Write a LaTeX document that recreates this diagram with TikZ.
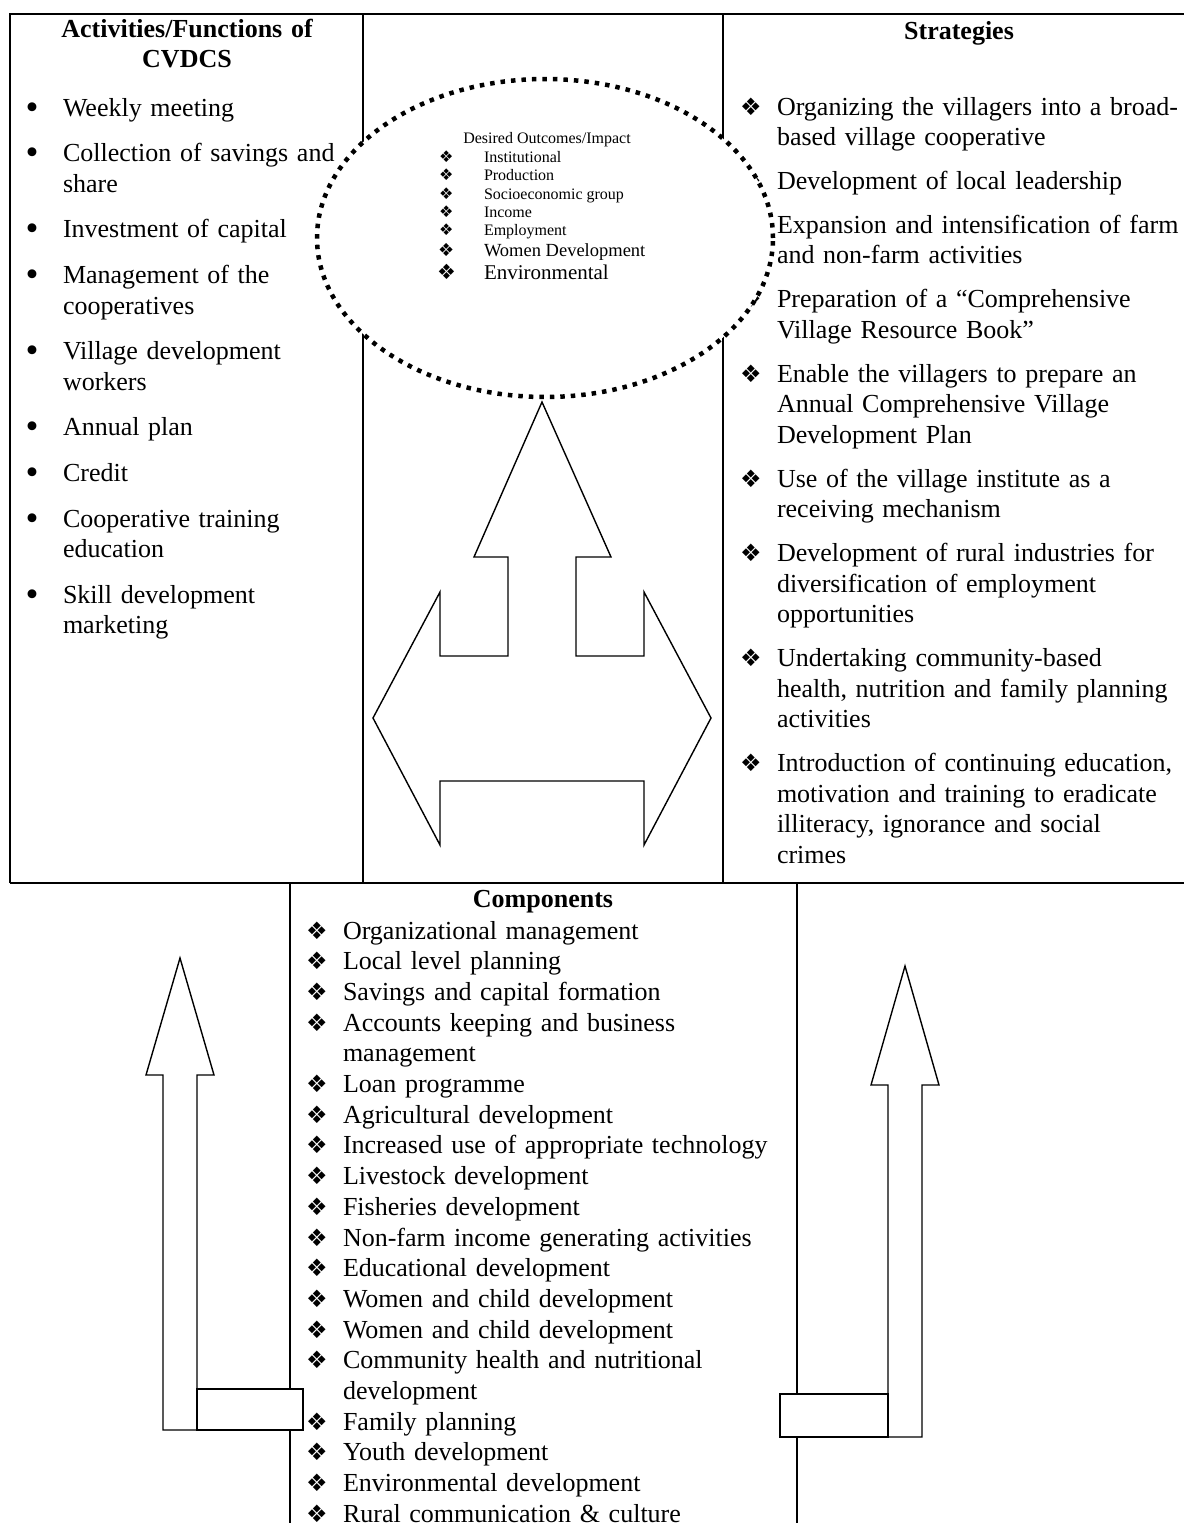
\documentclass[tikz,border=0pt]{standalone}
\usepackage{fontspec}
\setmainfont{Liberation Serif}
\newfontfamily\dvsans{DejaVu Sans}
\usetikzlibrary{shapes.geometric}

\newcommand\bigsz{\fontsize{26}{30.6}\selectfont}
\newcommand\dmd[1]{{\dvsans\fontsize{#1}{#1}\selectfont ❖}}
\newcommand\bul{\raisebox{-3pt}{\fontsize{37}{37}\selectfont •}}
\newcommand\litem[1]{\hangindent=53pt\hangafter=1\noindent\makebox[53pt][l]{\hspace*{15.5pt}\bul}#1}
\newcommand\sitem[1]{\hangindent=54pt\hangafter=1\noindent\makebox[54pt][l]{\hspace*{17pt}\dmd{24}}#1}
\newcommand\citem[1]{\hangindent=43pt\hangafter=1\noindent\makebox[43pt][l]{\hspace*{6pt}\dmd{24}}#1}
\newcommand\lgap{\par\vspace{15pt}}
\newcommand\sgap{\par\vspace{13.2pt}}
\newcommand\cgap{\par}

\begin{document}
\begin{tikzpicture}[x=1pt,y=-1pt,
  rule/.style={line width=1.8pt},
  arrowshape/.style={line width=1.4pt, fill=white, line join=miter},
  txt/.style={inner sep=0pt, outer sep=0pt},
  head/.style={txt, anchor=base, text width=340pt, align=center, font=\bigsz\bfseries},
  listbox/.style={txt, anchor=base west, align=left, font=\bigsz},
  dots/.style={line width=4.5pt, dash pattern=on 4.5pt off 6pt, fill=white},
  etext/.style={txt, anchor=base west},
]
\useasboundingbox[fill=white] (0,0) rectangle (1184,1523);

% table frame
\coordinate (tl) at (10,14);
\coordinate (tr) at (1184,14);
\coordinate (bl) at (10,883);
\coordinate (br) at (1184,883);
\coordinate (d1t) at (363,14);
\coordinate (d1b) at (363,883);
\coordinate (d2t) at (723,14);
\coordinate (d2b) at (723,883);
\coordinate (c1t) at (290,883);
\coordinate (c1b) at (290,1523);
\coordinate (c2t) at (797,883);
\coordinate (c2b) at (797,1523);
\draw[rule] (bl) -- (tl) -- (tr);
\draw[rule] (bl) -- (br);
\draw[rule] (d1t) -- (d1b);
\draw[rule] (d2t) -- (d2b);
\draw[rule] (c1t) -- (c1b);
\draw[rule] (c2t) -- (c2b);

% left column
\node[head] (acthead) at (187,37) {Activities/Functions of\\CVDCS};
\node[listbox, text width=350pt] (actlist) at (10,116) {%
\litem{Weekly meeting}\lgap
\litem{Collection of savings and\newline share}\lgap
\litem{Investment of capital}\lgap
\litem{Management of the\newline cooperatives}\lgap
\litem{Village development\newline workers}\lgap
\litem{Annual plan}\lgap
\litem{Credit}\lgap
\litem{Cooperative training\newline education}\lgap
\litem{Skill development\newline marketing}\par};

% right column
\node[head] (strhead) at (959,39) {Strategies};
\node[listbox, text width=470pt] (strlist) at (723,115) {%
\sitem{Organizing the villagers into a broad-\newline based village cooperative}\sgap
\sitem{Development of local leadership}\sgap
\sitem{Expansion and intensification of farm\newline and non-farm activities}\sgap
\sitem{Preparation of a “Comprehensive\newline Village Resource Book”}\sgap
\sitem{Enable the villagers to prepare an\newline Annual Comprehensive Village\newline Development Plan}\sgap
\sitem{Use of the village institute as a\newline receiving mechanism}\sgap
\sitem{Development of rural industries for\newline diversification of employment\newline opportunities}\sgap
\sitem{Undertaking community-based\newline health, nutrition and family planning\newline activities}\sgap
\sitem{Introduction of continuing education,\newline motivation and training to eradicate\newline illiteracy, ignorance and social\newline crimes}\par};

% desired outcomes ellipse
\node[ellipse, draw, dots, minimum width=456pt, minimum height=318pt, inner sep=0pt] (outcome) at (545,238) {};
\node[txt, anchor=base, font=\fontsize{16}{16}\selectfont] (ohead) at (547,143) {Desired Outcomes/Impact};
\node[etext] (o1) at (439,162) {\makebox[45pt][l]{\dmd{16}}\fontsize{16}{16}\selectfont Institutional};
\node[etext] (o2) at (439,180) {\makebox[45pt][l]{\dmd{16}}\fontsize{16}{16}\selectfont Production};
\node[etext] (o3) at (439,199) {\makebox[45pt][l]{\dmd{16}}\fontsize{16}{16}\selectfont Socioeconomic group};
\node[etext] (o4) at (439,217) {\makebox[45pt][l]{\dmd{16}}\fontsize{16}{16}\selectfont Income};
\node[etext] (o5) at (439,235) {\makebox[45pt][l]{\dmd{16}}\fontsize{16}{16}\selectfont Employment};
\node[etext] (o6) at (438,256) {\makebox[46pt][l]{\dmd{18}}\fontsize{18.5}{18.5}\selectfont Women Development};
\node[etext] (o7) at (437,279) {\makebox[47pt][l]{\dmd{21}}\fontsize{21}{21}\selectfont Environmental};

% central three-way arrow
\draw[arrowshape] (542,402) -- (611,557) -- (576,557) -- (576,656) -- (644,656) -- (644,592)
  -- (711,718) -- (644,845) -- (644,781) -- (440,781) -- (440,845) -- (373,718)
  -- (440,592) -- (440,656) -- (508,656) -- (508,557) -- (474,557) -- cycle;

% components
\node[txt, anchor=base, font=\bigsz\bfseries] (comphead) at (543,907) {Components};
\node[txt, anchor=base west, align=left, text width=500pt, font=\fontsize{26}{30.7}\selectfont] (complist) at (300,939) {%
\citem{Organizational management}\cgap
\citem{Local level planning}\cgap
\citem{Savings and capital formation}\cgap
\citem{Accounts keeping and business\newline management}\cgap
\citem{Loan programme}\cgap
\citem{Agricultural development}\cgap
\citem{Increased use of appropriate technology}\cgap
\citem{Livestock development}\cgap
\citem{Fisheries development}\cgap
\citem{Non-farm income generating activities}\cgap
\citem{Educational development}\cgap
\citem{Women and child development}\cgap
\citem{Women and child development}\cgap
\citem{Community health and nutritional\newline development}\cgap
\citem{Family planning}\cgap
\citem{Youth development}\cgap
\citem{Environmental development}\cgap
\citem{Rural communication \& culture}\par};

% bottom-left arrow
\draw[arrowshape] (180,958) -- (214,1075) -- (197,1075) -- (197,1430) -- (163,1430)
  -- (163,1075) -- (146,1075) -- cycle;
\draw[arrowshape] (197,1389) rectangle (303,1430);

% bottom-right arrow
\draw[arrowshape] (905,966) -- (939,1085) -- (922,1085) -- (922,1437) -- (888,1437)
  -- (888,1085) -- (871,1085) -- cycle;
\draw[arrowshape] (780,1394) rectangle (888,1437);
\end{tikzpicture}
\end{document}
